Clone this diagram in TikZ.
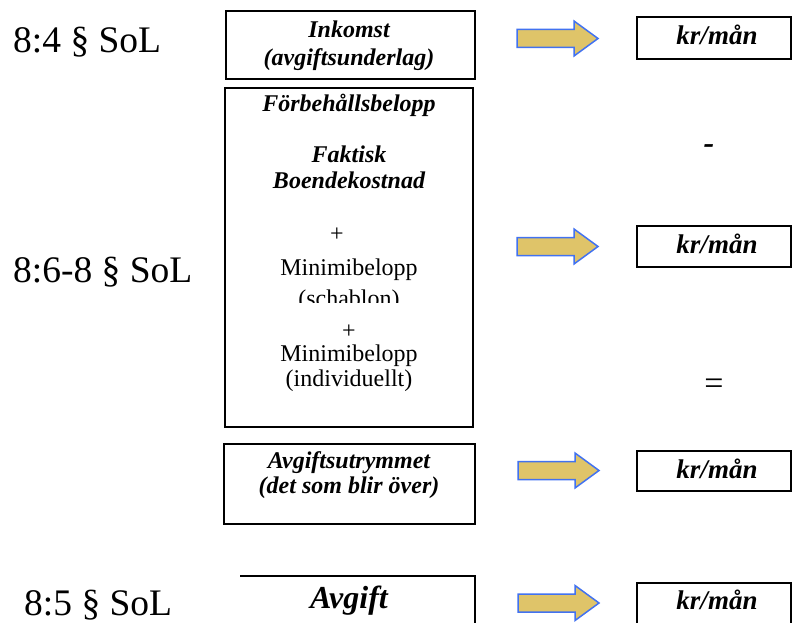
\documentclass[tikz,border=0pt]{standalone}
\usepackage{fontspec}
\setmainfont{Liberation Serif}
\definecolor{arrowgold}{RGB}{223,196,105}
\definecolor{arrowblue}{RGB}{66,114,240}
\tikzset{
  lab/.style={font=\fontsize{37.5}{40}\selectfont, anchor=base west, inner sep=0pt},
  bi/.style={font=\fontsize{24}{26}\selectfont\bfseries\itshape, anchor=base, inner sep=0pt},
  rg/.style={font=\fontsize{24}{26}\selectfont, anchor=base, inner sep=0pt},
  km/.style={font=\fontsize{27}{30}\selectfont\bfseries\itshape, anchor=base, inner sep=0pt},
  boxframe/.style={draw, line width=1.8pt, inner sep=0pt, minimum width=#1},
  barrow/.pic={\draw[line width=1.5pt, draw=arrowblue, fill=arrowgold, line join=miter]
     (0,-9) -- (57,-9) -- (57,-17.5) -- (81,0) -- (57,17.5) -- (57,9) -- (0,9) -- cycle;}
}
\begin{document}
\begin{tikzpicture}[x=1pt,y=-1pt]
\useasboundingbox (0,0) rectangle (792,623);
% left labels
\node[lab] (l1) at (13,53) {8:4 § SoL};
\node[lab] (l2) at (13,282) {8:6-8 § SoL};
\node[lab] (l3) at (24,615) {8:5 § SoL};
% boxes
\node[boxframe=249pt, minimum height=68pt] (inkbox) at (350.5,45) {};
\node[boxframe=248pt, minimum height=339pt] (fbox) at (349,257.5) {};
\node[boxframe=251pt, minimum height=80pt] (avbox) at (349.5,484) {};
\coordinate (avl) at (240,576);
\coordinate (avr) at (475,576);
\coordinate (avb) at (475,632);
\draw[line width=1.8pt] (avl) -- (avr) -- (avb);
% box texts
\node[bi] (t1) at (349,37.5) {Inkomst};
\node[bi] (t2) at (349,66) {(avgiftsunderlag)};
\node[bi] (t3) at (349,112) {Förbehållsbelopp};
\node[bi] (t4) at (349,162) {Faktisk};
\node[bi] (t5) at (349,188) {Boendekostnad};
\begin{scope}
\clip (226,89) rectangle (472,302);
\node[rg, anchor=center] (p1) at (337,235) {+};
\node[rg] (t6) at (349,275) {Minimibelopp};
\node[rg] (t7) at (349,306) {(schablon)};
\end{scope}
\node[rg, anchor=center] (p2) at (349,332) {+};
\node[rg] (t8) at (349,361) {Minimibelopp};
\node[rg] (t9) at (349,386) {(individuellt)};
\node[bi] (t10) at (349,468) {Avgiftsutrymmet};
\node[bi] (t11) at (349,493) {(det som blir över)};
\node[bi, font=\fontsize{32}{34}\selectfont\bfseries\itshape] (t12) at (349,608) {Avgift};
% arrows
\pic (a1) at (517,38.5) {barrow};
\pic (a2) at (517,246.5) {barrow};
\pic (a3) at (518,470.5) {barrow};
\pic (a4) at (518,603) {barrow};
% result boxes
\node[boxframe=154pt, minimum height=42pt] (k1) at (714,38) {};
\node[boxframe=154pt, minimum height=41pt] (k2) at (714,246.5) {};
\node[boxframe=154pt, minimum height=40pt] (k3) at (714,471) {};
\node[boxframe=154pt, minimum height=42pt] (k4) at (714,604) {};
\node[km] (r1) at (717,45) {kr/mån};
\node[km] (r2) at (717,253) {kr/mån};
\node[km] (r3) at (717,478) {kr/mån};
\node[km] (r4) at (717,609) {kr/mån};
% operators
\node[font=\fontsize{32}{34}\selectfont\bfseries\itshape, inner sep=0pt] (minus) at (709,149) {-};
\node[font=\fontsize{34}{36}\selectfont, inner sep=0pt] (eq) at (714,387) {=};
\end{tikzpicture}
\end{document}
